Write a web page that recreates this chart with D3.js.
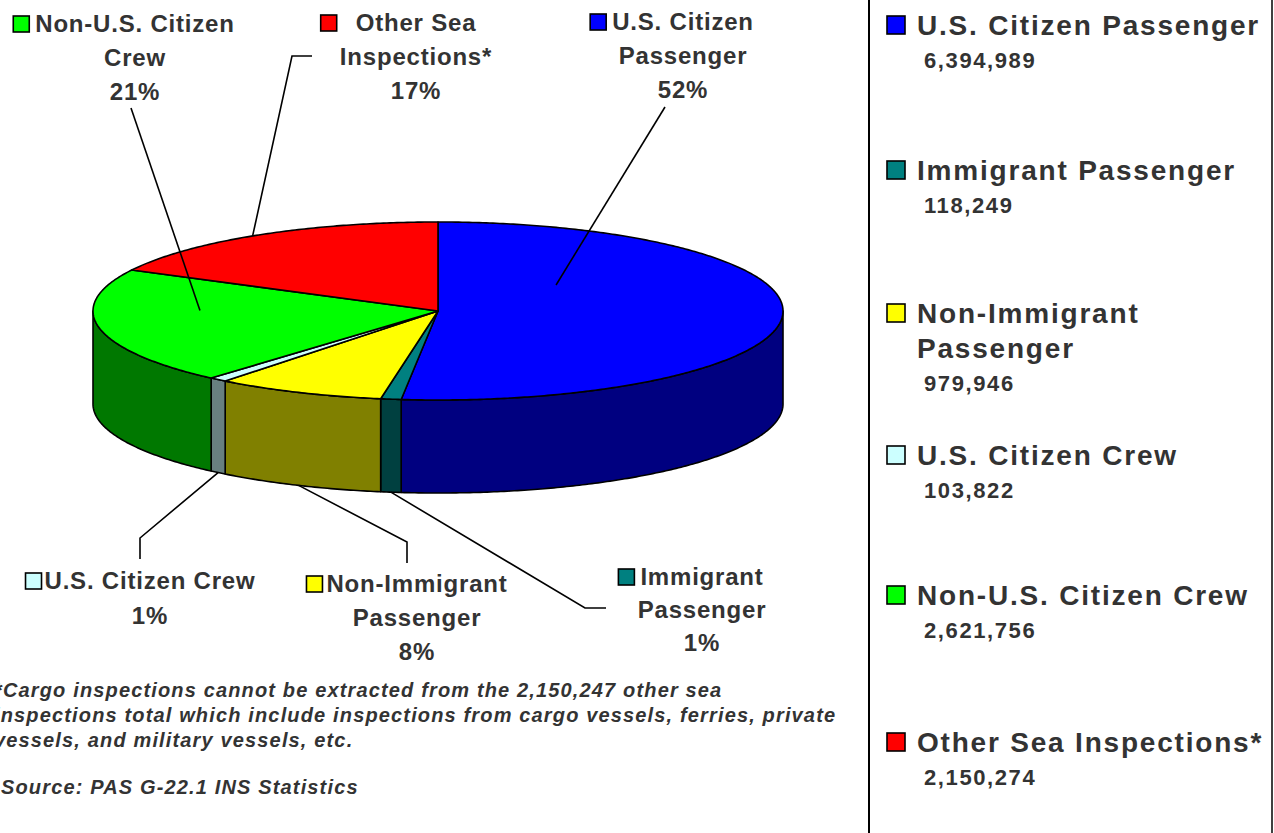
<!DOCTYPE html>
<html><head><meta charset="utf-8">
<script src="https://cdn.jsdelivr.net/npm/d3@7/dist/d3.min.js"></script>
<style>html,body{margin:0;padding:0;background:#fff;overflow:hidden}</style>
</head><body><svg id="chart" width="1274" height="833"></svg>
<script>
// ---------------- data ----------------
const categories = ["U.S. Citizen Passenger","Immigrant Passenger","Non-Immigrant Passenger","U.S. Citizen Crew","Non-U.S. Citizen Crew","Other Sea Inspections*"];
const values = [6394989,118249,979946,103822,2621756,2150274];
const topColors = ["#0000FF","#008080","#FFFF00","#CCFFFF","#00FF00","#FF0000"];
const sideColors = ["#000080","#004040","#808000","#688080","#007800","#800000"];
const pieLabelLines = [["U.S. Citizen","Passenger"],["Immigrant","Passenger"],["Non-Immigrant","Passenger"],["U.S. Citizen Crew"],["Non-U.S. Citizen","Crew"],["Other Sea","Inspections*"]];
const footnoteLines = ["*Cargo inspections cannot be extracted from the 2,150,247 other sea","inspections total which include inspections from cargo vessels, ferries, private","vessels, and military vessels, etc."];
const sourceLine = "Source: PAS G-22.1 INS Statistics";

// ---------------- layout ----------------
const FONT = "'Liberation Sans', Arial, Helvetica, sans-serif";
const TXT = "#333333";
const cx = 438, cy = 311, rx = 345, ry = 89, depth = 93;
const svg = d3.select("#chart");
const rad = d => d * Math.PI / 180;

const arcs = d3.pie().sort(null).value(d => d)(values);
const total = d3.sum(values);
const pct = d3.format(".0%");
const fmt = d3.format(",");

const ell = (a, r = 1, dy = 0) => [cx + rx * r * Math.sin(a), cy - ry * r * Math.cos(a) + dy];
function arcPts(a0, a1, dy) {
  const n = Math.max(2, Math.ceil((a1 - a0) / 0.01));
  return d3.range(n + 1).map(i => ell(a0 + (a1 - a0) * i / n, 1, dy));
}
const line = d3.line();

// sides
const gSide = svg.append("g");
arcs.forEach((d, i) => {
  const s = Math.max(d.startAngle, Math.PI / 2), e = Math.min(d.endAngle, 3 * Math.PI / 2);
  if (s < e) {
    const pts = arcPts(s, e, 0).concat(arcPts(s, e, depth).reverse());
    gSide.append("path").attr("d", line(pts) + "Z")
      .attr("fill", sideColors[i]).attr("stroke", "#000").attr("stroke-width", 1.6).attr("stroke-linejoin", "round");
  }
});
// tops
const gTop = svg.append("g");
arcs.forEach((d, i) => {
  const pts = [[cx, cy]].concat(arcPts(d.startAngle, d.endAngle, 0));
  gTop.append("path").attr("d", line(pts) + "Z")
    .attr("fill", topColors[i]).attr("stroke", "#000").attr("stroke-width", 1.6).attr("stroke-linejoin", "round");
});

// leader lines: anchor on the pie + elbow points
const leaders = [
  {a: rad(49.5), r: 0.45, dy: 0, pts: [[665, 107]]},
  {a: null, r: 1, dy: depth, pts: [[585, 608], [606, 608]]},
  {a: null, r: 1, dy: depth, pts: [[407, 542], [407, 563]]},
  {a: null, r: 1, dy: depth, pts: [[140, 538], [140, 559]]},
  {a: rad(270.5), r: 0.69, dy: 0, pts: [[131, 108]]},
  {a: rad(327.5), r: 1, dy: 0, pts: [[292, 56], [312, 56]]}
];
leaders.forEach((L, i) => {
  const a = L.a === null ? (arcs[i].startAngle + arcs[i].endAngle) / 2 : L.a;
  const p0 = ell(a, L.r, L.dy);
  svg.append("path").attr("d", line([p0].concat(L.pts)))
    .attr("fill", "none").attr("stroke", "#000").attr("stroke-width", 1.6);
});

// pie labels
const pieLabelPos = [
  {x: 683, y: 30, gap: 6},
  {x: 702, y: 585, gap: 6},
  {x: 417, y: 592, gap: 4},
  {x: 150, y: 589, gap: 3},
  {x: 135, y: 32, gap: 6},
  {x: 416, y: 31, gap: 19}
];
const pieLH = [34, 33, 34, 35, 34, 34];
arcs.forEach((d, i) => {
  const P = pieLabelPos[i];
  const lines = pieLabelLines[i].concat([pct(values[i] / total)]);
  const t = svg.append("text").attr("font-family", FONT).attr("font-weight", "bold")
    .attr("font-size", 24).attr("letter-spacing", 0.8).attr("fill", TXT).attr("text-anchor", "middle");
  let first;
  lines.forEach((s, k) => {
    const ts = t.append("tspan").attr("x", P.x).attr("y", P.y + k * pieLH[i]).text(s);
    if (k === 0) first = ts;
  });
  const w = first.node().getComputedTextLength();
  const x0 = P.x - w / 2;
  svg.append("rect").attr("x", x0 - P.gap - 16).attr("y", P.y - 16).attr("width", 16).attr("height", 16)
    .attr("fill", topColors[i]).attr("stroke", "#000").attr("stroke-width", 1.6);
});

// right legend box
svg.append("line").attr("x1", 869).attr("x2", 869).attr("y1", 0).attr("y2", 833).attr("stroke", "#000").attr("stroke-width", 2);
svg.append("line").attr("x1", 1272).attr("x2", 1272).attr("y1", 0).attr("y2", 833).attr("stroke", "#000").attr("stroke-width", 1.5);

const legendY = [35, 180, 323, 465, 605, 752];
const legMaxW = 350;
categories.forEach((c, i) => {
  const y = legendY[i];
  const t = svg.append("text").attr("font-family", FONT).attr("font-weight", "bold")
    .attr("font-size", 28).attr("letter-spacing", 1.8).attr("fill", TXT);
  const words = c.split(" ");
  let cur = [], lines = [];
  const probe = t.append("tspan").attr("x", 917).attr("y", y);
  words.forEach(wd => {
    const test = cur.concat([wd]).join(" ");
    probe.text(test);
    if (probe.node().getComputedTextLength() > legMaxW && cur.length) { lines.push(cur.join(" ")); cur = [wd]; }
    else cur.push(wd);
  });
  lines.push(cur.join(" "));
  probe.remove();
  lines.forEach((s, k) => t.append("tspan").attr("x", 917).attr("y", y + k * 35).text(s));
  svg.append("rect").attr("x", 887).attr("y", y - 19).attr("width", 18).attr("height", 18)
    .attr("fill", topColors[i]).attr("stroke", "#000").attr("stroke-width", 1.6);
  svg.append("text").attr("font-family", FONT).attr("font-weight", "bold")
    .attr("font-size", 22).attr("letter-spacing", 1.6).attr("fill", TXT)
    .attr("x", 924).attr("y", y + (lines.length - 1) * 35 + 33).text(fmt(values[i]));
});

// footnote
const fn = svg.append("text").attr("font-family", FONT).attr("font-weight", "bold").attr("font-style", "italic")
  .attr("font-size", 20).attr("letter-spacing", 1.15).attr("fill", TXT);
footnoteLines.forEach((s, k) => fn.append("tspan").attr("x", -6).attr("y", 697 + k * 25).text(s));
svg.append("text").attr("font-family", FONT).attr("font-weight", "bold").attr("font-style", "italic")
  .attr("font-size", 20).attr("letter-spacing", 1.15).attr("fill", TXT)
  .attr("x", 1).attr("y", 794).text(sourceLine);
</script>
</body></html>
